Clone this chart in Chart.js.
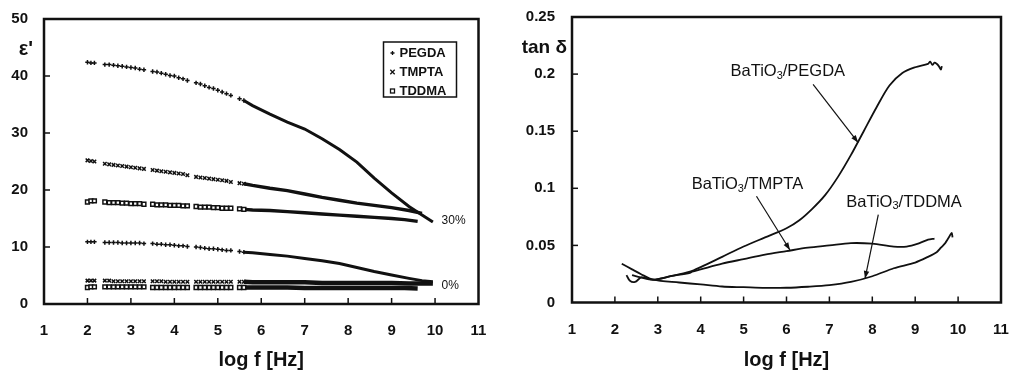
<!DOCTYPE html>
<html>
<head>
<meta charset="utf-8">
<script src="https://cdn.jsdelivr.net/npm/chart.js@4.4.1/dist/chart.umd.min.js"></script>
<style>
  body { margin: 0; background: #fff; }
  #wrap { display: flex; width: 1013px; height: 376px; }
  canvas { display: block; }
</style>
</head>
<body>
<div id="wrap">
  <canvas id="chartEps" width="500" height="376"></canvas>
  <canvas id="chartTan" width="513" height="376"></canvas>
</div>
<script>
const FONT = '"Liberation Sans", Arial, sans-serif';

// ---- tick labels ----
const logFTicks = [1, 2, 3, 4, 5, 6, 7, 8, 9, 10, 11];
const epsTicks = [0, 10, 20, 30, 40, 50];
const tanTicks = [0, 0.05, 0.1, 0.15, 0.2, 0.25];

// ---- left chart: eps' vs log f ----
const materials = ['PEGDA', 'TMPTA', 'TDDMA'];
// sparse marker region (measured in blocks, same frequencies for every sample)
const fSparse = [2.0, 2.08, 2.16,
                 2.4, 2.5, 2.6, 2.7, 2.8, 2.9, 3.0, 3.1, 3.2, 3.3,
                 3.5, 3.6, 3.7, 3.8, 3.9, 4.0, 4.1, 4.2, 4.3,
                 4.5, 4.6, 4.7, 4.8, 4.9, 5.0, 5.1, 5.2, 5.3,
                 5.5, 5.6];
// dense region (markers merge into a thick line)
const fDenseTo10 = [5.8, 6.2, 6.6, 7.0, 7.4, 7.8, 8.2, 8.6, 9.0, 9.4, 9.7, 9.95];
const fDenseTo97 = [5.8, 6.2, 6.6, 7.0, 7.4, 7.8, 8.2, 8.6, 9.0, 9.4, 9.7];
const fDenseTo96 = [5.8, 6.2, 6.6, 7.0, 7.4, 7.8, 8.2, 8.6, 9.0, 9.3, 9.6];

// 30 % BaTiO3
const pegda30 = [42.4, 42.3, 42.3,
                 42.0, 42.0, 41.9, 41.8, 41.7, 41.6, 41.5, 41.4, 41.2, 41.1,
                 40.8, 40.7, 40.5, 40.3, 40.1, 40.0, 39.7, 39.5, 39.2,
                 38.8, 38.6, 38.3, 38.0, 37.8, 37.5, 37.2, 36.9, 36.6,
                 36.0, 35.7,
                 34.8, 33.3, 31.9, 30.7, 29.0, 27.1, 24.9, 22.1, 19.5, 17.1, 15.6, 14.4];
const tmpta30 = [25.2, 25.1, 25.0,
                 24.6, 24.5, 24.4, 24.3, 24.2, 24.1, 24.0, 23.9, 23.8, 23.7,
                 23.5, 23.4, 23.3, 23.2, 23.1, 23.0, 22.9, 22.8, 22.6,
                 22.3, 22.2, 22.1, 22.0, 21.9, 21.8, 21.7, 21.6, 21.4,
                 21.2, 21.1,
                 20.8, 20.3, 19.9, 19.3, 18.7, 18.2, 17.7, 17.3, 16.9, 16.4, 15.9];
const tddma30 = [17.9, 18.1, 18.1,
                 17.9, 17.8, 17.8, 17.8, 17.7, 17.7, 17.6, 17.6, 17.6, 17.5,
                 17.5, 17.4, 17.4, 17.4, 17.3, 17.3, 17.3, 17.2, 17.2,
                 17.1, 17.0, 17.0, 17.0, 16.9, 16.9, 16.8, 16.8, 16.8,
                 16.7, 16.6,
                 16.5, 16.4, 16.2, 16.0, 15.8, 15.6, 15.4, 15.2, 15.0, 14.8, 14.5];
// 0 % BaTiO3
const pegda0 = [10.9, 10.9, 10.9,
                10.8, 10.8, 10.8, 10.8, 10.7, 10.7, 10.7, 10.7, 10.7, 10.6,
                10.6, 10.5, 10.5, 10.4, 10.4, 10.3, 10.2, 10.2, 10.1,
                10.0, 9.9, 9.8, 9.7, 9.7, 9.6, 9.5, 9.4, 9.4,
                9.2, 9.1,
                9.0, 8.7, 8.4, 8.0, 7.6, 7.1, 6.4, 5.7, 5.1, 4.5, 4.1, 3.9];
const tmpta0 = [4.1, 4.1, 4.1,
                4.1, 4.1, 4.0, 4.0, 4.0, 4.0, 4.0, 4.0, 4.0, 4.0,
                4.0, 4.0, 4.0, 3.9, 3.9, 3.9, 3.9, 3.9, 3.9,
                3.9, 3.9, 3.9, 3.9, 3.9, 3.9, 3.9, 3.9, 3.9,
                3.9, 3.9,
                3.8, 3.8, 3.8, 3.8, 3.7, 3.7, 3.7, 3.7, 3.7, 3.6, 3.6, 3.6];
const tddma0 = [2.9, 3.0, 3.0,
                3.0, 3.0, 3.0, 3.0, 3.0, 3.0, 3.0, 3.0, 3.0, 3.0,
                2.9, 2.9, 2.9, 2.9, 2.9, 2.9, 2.9, 2.9, 2.9,
                2.9, 2.9, 2.9, 2.9, 2.9, 2.9, 2.9, 2.9, 2.9,
                2.9, 2.9,
                2.9, 2.9, 2.9, 2.8, 2.8, 2.8, 2.8, 2.8, 2.8, 2.8, 2.7];

const fillerLabels = ['30%', '0%'];
const fillerLabelX = [10.15, 10.15];
const fillerLabelY = [14.7, 3.3];

// ---- right chart: tan delta vs log f ----
const pegdaTanF = [2.27, 2.35, 2.47, 2.62, 2.89, 3.3, 3.75, 4.0, 4.5, 5.0, 5.5, 6.0, 6.3, 6.6, 6.9, 7.2, 7.5, 7.8, 8.1, 8.4, 8.7, 9.0, 9.3, 9.35, 9.4, 9.45, 9.5, 9.55, 9.6, 9.62];
const pegdaTan  = [0.024, 0.019, 0.018, 0.022, 0.020, 0.023, 0.027, 0.031, 0.040, 0.049, 0.057, 0.065, 0.072, 0.082, 0.094, 0.110, 0.129, 0.150, 0.171, 0.190, 0.201, 0.206, 0.209, 0.211, 0.208, 0.210, 0.209, 0.207, 0.204, 0.207];
const tmptaTanF = [2.4, 2.6, 2.89, 3.3, 3.75, 3.8, 4.0, 4.5, 5.0, 5.5, 6.0, 6.5, 7.0, 7.5, 8.0, 8.5, 8.8, 9.1, 9.3, 9.45];
const tmptaTan  = [0.024, 0.022, 0.020, 0.023, 0.026, 0.027, 0.029, 0.034, 0.038, 0.042, 0.045, 0.048, 0.050, 0.052, 0.0515, 0.049, 0.049, 0.052, 0.055, 0.056];
const tddmaTanF = [2.16, 2.4, 2.6, 2.89, 3.5, 4.0, 4.5, 5.0, 5.5, 6.0, 6.5, 7.0, 7.5, 8.0, 8.5, 9.0, 9.3, 9.5, 9.6, 9.7, 9.75, 9.8, 9.85, 9.87];
const tddmaTan  = [0.034, 0.029, 0.025, 0.020, 0.0175, 0.0158, 0.014, 0.0134, 0.0128, 0.0129, 0.0138, 0.0152, 0.018, 0.023, 0.030, 0.035, 0.040, 0.044, 0.048, 0.052, 0.055, 0.058, 0.061, 0.057];

// annotation labels + arrows (data coordinates)
const noteX = [6.03, 5.09, 8.74];
const noteY = [0.202, 0.103, 0.088];
const arrowFrom = [[6.62, 0.191], [5.30, 0.093], [8.14, 0.077]];
const arrowTo   = [[7.67, 0.140], [6.08, 0.046], [7.83, 0.021]];

const pts = (xs, ys) => ys.map((v, i) => ({ x: xs[i], y: v }));

// 框線 + 朝內的刻度
const framePlugin = {
  id: 'frame',
  afterDraw(chart) {
    const { ctx, chartArea: a, scales } = chart;
    ctx.save();
    ctx.strokeStyle = '#111';
    ctx.lineWidth = 1.5;
    scales.x.ticks.forEach(t => {
      const px = scales.x.getPixelForValue(t.value);
      if (px <= a.left + 1 || px >= a.right - 1) return;
      ctx.beginPath(); ctx.moveTo(px, a.bottom); ctx.lineTo(px, a.bottom - 6); ctx.stroke();
    });
    scales.y.ticks.forEach(t => {
      const py = scales.y.getPixelForValue(t.value);
      if (py <= a.top + 1 || py >= a.bottom - 1) return;
      ctx.beginPath(); ctx.moveTo(a.left, py); ctx.lineTo(a.left + 6, py); ctx.stroke();
    });
    ctx.lineWidth = 2.5;
    ctx.strokeRect(a.left, a.top, a.right - a.left, a.bottom - a.top);
    // y-axis symbol in the tick label column
    const o = chart.options.plugins.frame;
    ctx.fillStyle = '#111';
    ctx.font = 'bold ' + o.size + 'px ' + FONT;
    ctx.textAlign = 'right';
    ctx.textBaseline = 'middle';
    ctx.fillText(o.text, a.left - o.gap, scales.y.getPixelForValue(o.at));
    ctx.restore();
  }
};

function drawMarker(ctx, style, x, y) {
  ctx.beginPath();
  if (style === 'cross') {
    ctx.moveTo(x - 2, y); ctx.lineTo(x + 2, y); ctx.moveTo(x, y - 2); ctx.lineTo(x, y + 2);
    ctx.stroke();
  } else if (style === 'crossRot') {
    ctx.moveTo(x - 2.2, y - 2.2); ctx.lineTo(x + 2.2, y + 2.2); ctx.moveTo(x + 2.2, y - 2.2); ctx.lineTo(x - 2.2, y + 2.2);
    ctx.stroke();
  } else {
    ctx.strokeRect(x - 2, y - 2, 4, 4);
  }
}

const legendPlugin = {
  id: 'boxLegend',
  afterDraw(chart) {
    const { ctx, chartArea: a, scales: { x, y } } = chart;
    ctx.save();
    const left = a.right - 95, top = a.top + 23;
    ctx.strokeStyle = '#111';
    ctx.lineWidth = 1.5;
    ctx.strokeRect(left, top, 73, 55);
    ctx.fillStyle = '#111';
    ctx.font = 'bold 13px ' + FONT;
    ctx.textAlign = 'left';
    ctx.textBaseline = 'middle';
    materials.forEach((m, i) => {
      const ds = chart.data.datasets[i];
      const ly = top + 11 + i * 19;
      ctx.lineWidth = 1.3;
      drawMarker(ctx, ds.pointStyle, left + 9, ly);
      ctx.fillText(m, left + 16, ly);
    });
    ctx.font = '12px ' + FONT;
    fillerLabels.forEach((t, i) => {
      ctx.fillText(t, x.getPixelForValue(fillerLabelX[i]), y.getPixelForValue(fillerLabelY[i]));
    });
    ctx.restore();
  }
};

const notePlugin = {
  id: 'notes',
  afterDatasetsDraw(chart) {
    const { ctx, scales: { x, y } } = chart;
    ctx.save();
    ctx.strokeStyle = '#111';
    ctx.fillStyle = '#111';
    ctx.lineWidth = 1.2;
    arrowFrom.forEach((f, i) => {
      const x0 = x.getPixelForValue(f[0]), y0 = y.getPixelForValue(f[1]);
      const x1 = x.getPixelForValue(arrowTo[i][0]), y1 = y.getPixelForValue(arrowTo[i][1]);
      const ang = Math.atan2(y1 - y0, x1 - x0);
      ctx.beginPath(); ctx.moveTo(x0, y0); ctx.lineTo(x1, y1); ctx.stroke();
      ctx.beginPath();
      ctx.moveTo(x1, y1);
      ctx.lineTo(x1 - 8 * Math.cos(ang - 0.35), y1 - 8 * Math.sin(ang - 0.35));
      ctx.lineTo(x1 - 8 * Math.cos(ang + 0.35), y1 - 8 * Math.sin(ang + 0.35));
      ctx.closePath(); ctx.fill();
    });
    ctx.textBaseline = 'middle';
    ctx.textAlign = 'left';
    materials.forEach((m, i) => {
      const big = '16.5px ' + FONT, small = '11px ' + FONT;
      const a1 = 'BaTiO', sub = '3', a2 = '/' + m;
      ctx.font = big; const w1 = ctx.measureText(a1).width, w3 = ctx.measureText(a2).width;
      ctx.font = small; const w2 = ctx.measureText(sub).width;
      let px = x.getPixelForValue(noteX[i]) - (w1 + w2 + w3) / 2;
      const py = y.getPixelForValue(noteY[i]);
      ctx.font = big; ctx.fillText(a1, px, py); px += w1;
      ctx.font = small; ctx.fillText(sub, px, py + 4); px += w2;
      ctx.font = big; ctx.fillText(a2, px, py);
    });
    ctx.restore();
  }
};

// tick length (invisible) is used as the label offset so the layout keeps the set padding
function scaleX(height) {
  return {
    type: 'linear', min: 1, max: 11,
    afterBuildTicks: s => { s.ticks = logFTicks.map(v => ({ value: v })); },
    grid: { display: false, drawTicks: true, tickLength: 18 },
    border: { display: false },
    ticks: { color: '#111', font: { family: FONT, size: 15, weight: 'bold' }, padding: 0, maxRotation: 0, autoSkip: false },
    title: { display: true, text: 'log f [Hz]', color: '#111', font: { family: FONT, size: 20, weight: 'bold' }, padding: { top: 0, bottom: 4 } },
    afterFit: s => { s.height = height; }
  };
}

function scaleY(min, max, tickList, width, off) {
  return {
    type: 'linear', min: min, max: max,
    afterBuildTicks: s => { s.ticks = tickList.map(v => ({ value: v })); },
    grid: { display: false, drawTicks: true, tickLength: off },
    border: { display: false },
    ticks: { color: '#111', font: { family: FONT, size: 15, weight: 'bold' }, padding: 0, callback: v => String(v) },
    afterFit: s => { s.width = width; }
  };
}

function epsSet(data, style, radius, lineW) {
  return {
    data: data, showLine: true, borderColor: '#111', borderWidth: lineW,
    pointStyle: style, pointBorderColor: '#111', pointBackgroundColor: '#fff',
    pointBorderWidth: 1.5,
    pointRadius: ctx => (ctx.raw && ctx.raw.x > 5.7 ? 0 : radius),
    segment: { borderColor: ctx => (ctx.p0.parsed.x < 5.6 ? 'rgba(0,0,0,0)' : '#111') }
  };
}

new Chart(document.getElementById('chartEps'), {
  type: 'scatter',
  data: {
    datasets: [
      epsSet(pts(fSparse.concat(fDenseTo10), pegda30), 'cross', 2.2, 3),
      epsSet(pts(fSparse.concat(fDenseTo97), tmpta30), 'crossRot', 2.5, 3.4),
      epsSet(pts(fSparse.concat(fDenseTo96), tddma30), 'rect', 2.7, 3.4),
      epsSet(pts(fSparse.concat(fDenseTo10), pegda0), 'cross', 2.2, 3),
      epsSet(pts(fSparse.concat(fDenseTo10), tmpta0), 'crossRot', 2.5, 4.5),
      epsSet(pts(fSparse.concat(fDenseTo96), tddma0), 'rect', 2.7, 4.5)
    ]
  },
  options: {
    responsive: false, animation: false,
    layout: { padding: { left: 0, right: 21.5, top: 19, bottom: 0 } },
    scales: { x: scaleX(72), y: scaleY(0, 50, epsTicks, 44, 16) },
    plugins: { legend: { display: false }, tooltip: { enabled: false },
      frame: { text: "\u03B5'", size: 20, gap: 11, at: 44.6 } }
  },
  plugins: [framePlugin, legendPlugin]
});

function tanSet(xs, ys) {
  return { data: pts(xs, ys), showLine: true, borderColor: '#111', borderWidth: 1.8, pointRadius: 0, tension: 0.3 };
}

new Chart(document.getElementById('chartTan'), {
  type: 'scatter',
  data: {
    datasets: [
      tanSet(pegdaTanF, pegdaTan),
      tanSet(tmptaTanF, tmptaTan),
      tanSet(tddmaTanF, tddmaTan)
    ]
  },
  options: {
    responsive: false, animation: false,
    layout: { padding: { left: 0, right: 12, top: 17, bottom: 0 } },
    scales: { x: scaleX(73.5), y: scaleY(0, 0.25, tanTicks, 72, 17) },
    plugins: { legend: { display: false }, tooltip: { enabled: false },
      frame: { text: 'tan \u03B4', size: 19, gap: 5, at: 0.223 } }
  },
  plugins: [framePlugin, notePlugin]
});
</script>
</body>
</html>
